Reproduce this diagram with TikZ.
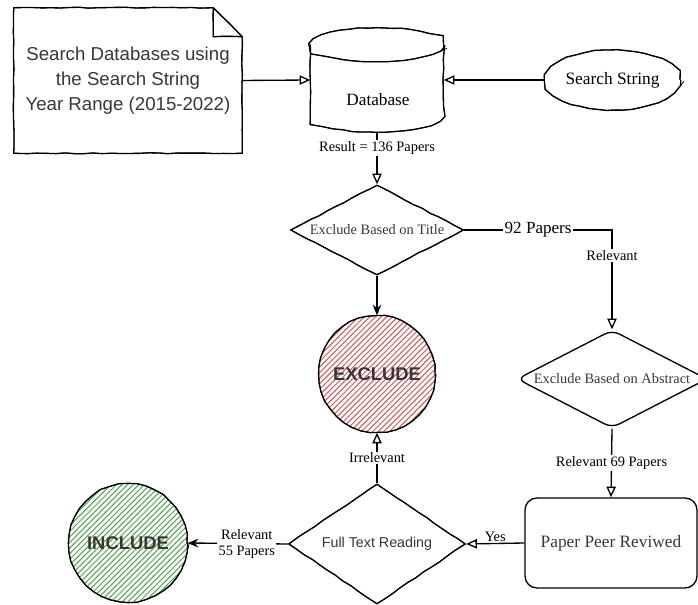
\documentclass[tikz,border=0pt]{standalone}
\usepackage{fontspec}
\setmainfont{Liberation Serif}
\setsansfont{Liberation Sans}
\usetikzlibrary{shapes.geometric, arrows.meta, decorations.pathmorphing}
\definecolor{hatchred}{RGB}{212,86,90}
\definecolor{hatchgreen}{RGB}{86,165,86}
\definecolor{inkgray}{RGB}{55,55,55}
\tikzstyle{sketch} = [line width=1pt, decorate, decoration={random steps, segment length=7pt, amplitude=0.35pt}, preaction={draw, line width=0.6pt, decorate, decoration={random steps, segment length=11pt, amplitude=0.7pt}}]
\tikzstyle{note} = [rectangle, minimum width=171pt, minimum height=108.75pt, align=center, text=inkgray, font=\sffamily\fontsize{14}{18.75}\selectfont]
\tikzstyle{database} = [rectangle, minimum width=99.75pt, minimum height=78pt]
\tikzstyle{source} = [ellipse, draw, sketch, minimum width=101.25pt, minimum height=45pt, inner sep=0pt, font=\fontsize{13}{15}\selectfont]
\tikzstyle{decision} = [diamond, draw, line width=1pt, inner sep=0pt, text=inkgray, font=\fontsize{10.8}{13}\selectfont]
\tikzstyle{terminal} = [circle, draw, sketch, text=inkgray, font=\sffamily\bfseries\fontsize{13.8}{16}\selectfont]
\tikzstyle{process} = [rectangle, rounded corners=9pt, draw, line width=1pt, minimum width=129pt, minimum height=67.5pt, text=inkgray, font=\fontsize{13}{15}\selectfont]
\tikzstyle{edgelabel} = [fill=white, inner sep=1pt, align=center, font=\fontsize{10.8}{12}\selectfont]
\tikzstyle{redhatch} = [path picture={\foreach \k in {-65.1,-60.9,...,65.1} \draw[hatchred, line width=0.75pt] ([shift={(\k pt-70pt,-70pt)}]path picture bounding box.center) -- ++(140pt,140pt);}]
\tikzstyle{greenhatch} = [path picture={\foreach \k in {-65.1,-60.9,...,65.1} \draw[hatchgreen, line width=0.75pt] ([shift={(\k pt-70pt,-70pt)}]path picture bounding box.center) -- ++(140pt,140pt);}]
\tikzstyle{arrow} = [line width=1pt, -{Stealth[length=8pt, width=6.5pt]}]
\tikzstyle{openarrow} = [line width=1pt, -{Triangle[open, length=8pt, width=7pt]}]

\begin{document}
\begin{tikzpicture}[x=0.75pt, y=0.75pt]
	\pgfmathsetseed{42}
	\useasboundingbox (0,0) rectangle (698,605);
	\node (search) [note] at (128,524.5) {Search Databases using\\the Search String\\Year Range (2015-2022)};
	\node (db) [database] at (377,525) {};
	\node (dbname) [font=\fontsize{12.9}{15}\selectfont] at (378,505) {Database};
	\node (string) [source] at (612.5,525) {Search String};
	\node (title) [decision, sketch, aspect=1.92, minimum width=129.75pt, minimum height=67.5pt] at (377,375) {Exclude Based on Title};
	\node (abstract) [decision, rounded corners=6pt, aspect=1.94, minimum width=142.5pt, minimum height=73.5pt] at (612,226) {Exclude Based on Abstract};
	\node (exclude) [terminal, redhatch, minimum size=87pt] at (377,231) {EXCLUDE};
	\node (peer) [process] at (611,62) {Paper Peer Reviwed};
	\node (fulltext) [decision, sketch, aspect=1.475, font=\sffamily\fontsize{10.7}{13}\selectfont, minimum width=132.75pt, minimum height=90pt] at (377,61) {Full Text Reading};
	\node (include) [terminal, greenhatch, minimum size=88.5pt] at (128,62) {INCLUDE};

	\draw [sketch] (search.south west) -- (search.north west) -- ([xshift=-21.75pt]search.north east) -- ([yshift=-21.75pt]search.north east) -- (search.south east) -- cycle;
	\draw [sketch] ([xshift=-21.75pt]search.north east) -- ([xshift=-21.75pt, yshift=-21.75pt]search.north east) -- ([yshift=-21.75pt]search.north east);
	\draw [sketch] ([yshift=-12.75pt]db.north) ellipse [x radius=49.875pt, y radius=12.75pt];
	\draw [sketch] ([yshift=-12.75pt]db.north west) -- ([yshift=12.75pt]db.south west) arc [start angle=180, end angle=360, x radius=49.875pt, y radius=12.75pt] -- ([yshift=-12.75pt]db.north east);

	\draw [openarrow] (search.east) -- (db.west);
	\draw [openarrow] (string.west) -- (db.east);
	\draw [openarrow] (db.south) -- node[edgelabel, pos=0.3] {Result = 136 Papers} (title.north);
	\draw [openarrow] (title.east) -- node[edgelabel, font=\fontsize{12.8}{14}\selectfont] {92 Papers} (title.east -| abstract.north) -- node[edgelabel, pos=0.26] {Relevant} (abstract.north);
	\draw [arrow] (title.south) -- (exclude.north);
	\draw [openarrow] (abstract.south) -- node[edgelabel] {Relevant 69 Papers} (peer.north);
	\draw [openarrow] (peer.west) -- node[edgelabel, fill=none, above] {Yes} (fulltext.east);
	\draw [openarrow] (fulltext.north) -- node[edgelabel] {Irrelevant} (exclude.south);
	\draw [arrow] (fulltext.west) -- node[edgelabel, pos=0.41] {Relevant\\55 Papers} (include.east);
\end{tikzpicture}
\end{document}
